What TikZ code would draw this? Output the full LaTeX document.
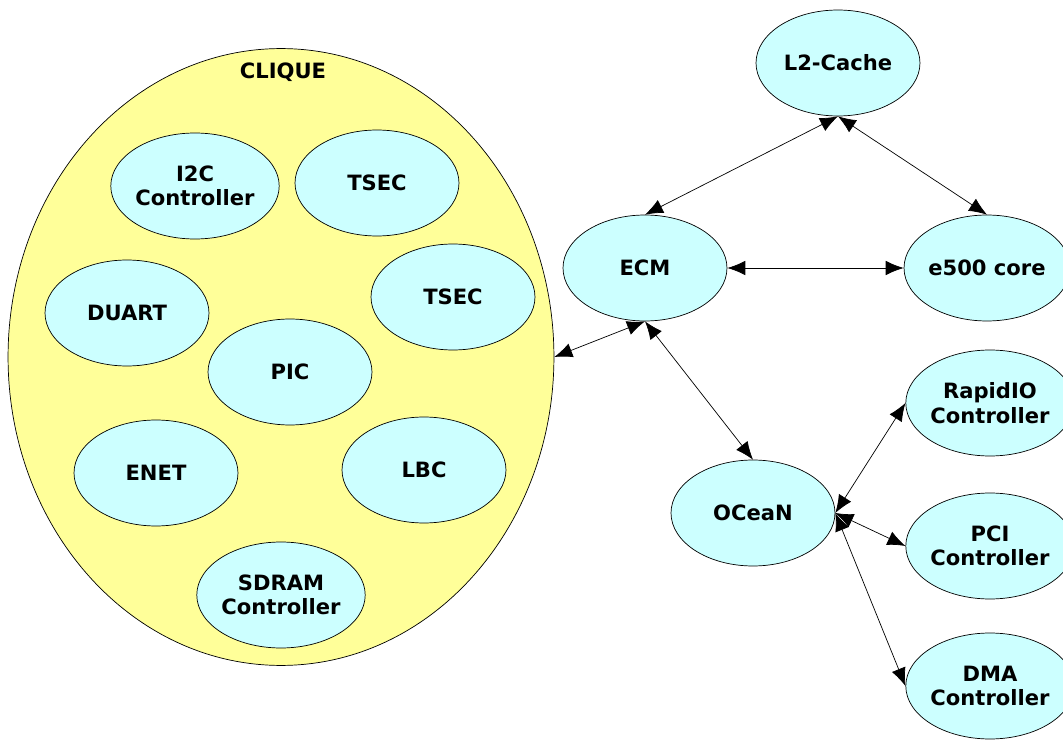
\documentclass[tikz,border=0pt]{standalone}
\usepackage{fontspec}
\setmainfont{DejaVu Sans}
\usetikzlibrary{shapes.geometric,arrows.meta}
\definecolor{cliqueyellow}{HTML}{FFFF99}
\definecolor{blockcyan}{HTML}{CCFFFF}

\begin{document}
\begin{tikzpicture}[x=0.02cm,y=-0.02cm,
    block/.style={ellipse,draw,fill=blockcyan,minimum width=3.28cm,minimum height=2.12cm,
      inner sep=0pt,align=center,font=\bfseries\fontsize{12}{14}\selectfont},
    link/.style={{Latex[length=3.6mm,width=2.9mm]}-{Latex[length=3.6mm,width=2.9mm]}}]
    \path[use as bounding box] (0,0) rectangle (1063,740);

    % the clique
    \node[ellipse,draw,fill=cliqueyellow,minimum width=10.92cm,minimum height=12.34cm,inner sep=0pt] (clique) at (281,357) {};
    \node[font=\bfseries\fontsize{12}{14}\selectfont] (cliquename) at (283,72) {CLIQUE};

    \node[block] (i2c) at (195,186) {I2C\\Controller};
    \node[block] (tsecA) at (377,183) {TSEC};
    \node[block] (duart) at (127,313) {DUART};
    \node[block] (tsecB) at (453,297) {TSEC};
    \node[block] (pic) at (290,372) {PIC};
    \node[block] (enet) at (156,473) {ENET};
    \node[block] (lbc) at (424,470) {LBC};
    \node[block] (sdram) at (281,595) {SDRAM\\Controller};

    % the rest
    \node[block] (l2) at (838,63) {L2-Cache};
    \node[block] (ecm) at (645,268) {ECM};
    \node[block,minimum width=3.1cm] (core) at (987,268) {e500 core};
    \node[block] (ocean) at (753,513) {OCeaN};
    \node[block] (rapidio) at (990,403) {RapidIO\\Controller};
    \node[block] (pci) at (990,546) {PCI\\Controller};
    \node[block] (dma) at (990,686) {DMA\\Controller};

    \draw[link] (l2.south) -- (ecm.north);
    \draw[link] (l2.south) -- (core.north);
    \draw[link] (ecm.east) -- (core.west);
    \draw[link] (ecm.south) -- (clique.east);
    \draw[link] (ecm.south) -- (ocean.north);
    \draw[link] (ocean.east) -- (rapidio.west);
    \draw[link] (ocean.east) -- (pci.west);
    \draw[link] (ocean.east) -- (dma.west);
\end{tikzpicture}
\end{document}
